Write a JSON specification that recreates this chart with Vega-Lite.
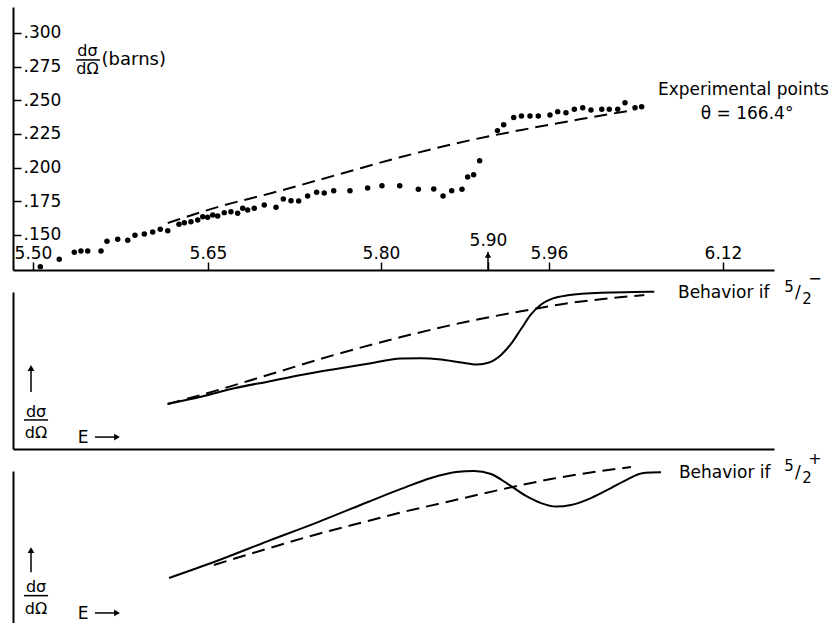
{
  "$schema": "https://vega.github.io/schema/vega-lite/v6.json",
  "background": "white",
  "padding": {"left": 12, "top": 7, "right": 0, "bottom": 0},
  "bounds": "flush",
  "spacing": 22,
  "config": {
    "view": {"stroke": null},
    "font": "DejaVu Sans",
    "axis": {"domainColor": "black", "domainWidth": 2, "tickColor": "black", "tickWidth": 1.5, "labelColor": "black", "grid": false, "labelFont": "DejaVu Sans"},
    "text": {"font": "DejaVu Sans", "color": "black"}
  },
  "resolve": {"scale": {"x": "independent", "y": "independent"}},
  "datasets": {
    "expt": [
      {"E": 5.5063, "v": 0.1265}, {"E": 5.5225, "v": 0.1320}, {"E": 5.5354, "v": 0.1372}, {"E": 5.5411, "v": 0.1381},
      {"E": 5.5469, "v": 0.1381}, {"E": 5.5583, "v": 0.1381}, {"E": 5.5634, "v": 0.1453}, {"E": 5.5726, "v": 0.1468},
      {"E": 5.5812, "v": 0.1461}, {"E": 5.5874, "v": 0.1498}, {"E": 5.5954, "v": 0.1507}, {"E": 5.6026, "v": 0.1522},
      {"E": 5.6091, "v": 0.1542}, {"E": 5.6155, "v": 0.1532}, {"E": 5.6251, "v": 0.1579}, {"E": 5.6297, "v": 0.1591},
      {"E": 5.6354, "v": 0.1599}, {"E": 5.6412, "v": 0.1611}, {"E": 5.6455, "v": 0.1636}, {"E": 5.6497, "v": 0.1631},
      {"E": 5.6541, "v": 0.1649}, {"E": 5.6584, "v": 0.1641}, {"E": 5.6641, "v": 0.1666}, {"E": 5.6699, "v": 0.1673},
      {"E": 5.6757, "v": 0.1661}, {"E": 5.6801, "v": 0.1698}, {"E": 5.6844, "v": 0.1686}, {"E": 5.6901, "v": 0.1698},
      {"E": 5.6988, "v": 0.1723}, {"E": 5.7090, "v": 0.1706}, {"E": 5.7153, "v": 0.1767}, {"E": 5.7220, "v": 0.1755},
      {"E": 5.7286, "v": 0.1752}, {"E": 5.7364, "v": 0.1790}, {"E": 5.7442, "v": 0.1817}, {"E": 5.7508, "v": 0.1812},
      {"E": 5.7590, "v": 0.1829}, {"E": 5.7731, "v": 0.1829}, {"E": 5.7884, "v": 0.1849}, {"E": 5.8009, "v": 0.1866},
      {"E": 5.8175, "v": 0.1866}, {"E": 5.8349, "v": 0.1839}, {"E": 5.8493, "v": 0.1842}, {"E": 5.8580, "v": 0.1790},
      {"E": 5.8661, "v": 0.1829}, {"E": 5.8757, "v": 0.1840}, {"E": 5.8810, "v": 0.1931}, {"E": 5.8866, "v": 0.1948},
      {"E": 5.8922, "v": 0.2052}, {"E": 5.9093, "v": 0.2275}, {"E": 5.9154, "v": 0.2319}, {"E": 5.9253, "v": 0.2373},
      {"E": 5.9329, "v": 0.2384}, {"E": 5.9413, "v": 0.2384}, {"E": 5.9495, "v": 0.2384}, {"E": 5.9609, "v": 0.2391},
      {"E": 5.9680, "v": 0.2416}, {"E": 5.9756, "v": 0.2408}, {"E": 5.9833, "v": 0.2433}, {"E": 5.9910, "v": 0.2445},
      {"E": 5.9986, "v": 0.2428}, {"E": 6.0085, "v": 0.2433}, {"E": 6.0154, "v": 0.2433}, {"E": 6.0232, "v": 0.2433},
      {"E": 6.0299, "v": 0.2482}, {"E": 6.0391, "v": 0.2445}, {"E": 6.0452, "v": 0.2453}
    ],
    "fit": [
      {"E": 5.6155, "v": 0.1589}, {"E": 5.6613, "v": 0.1715}, {"E": 5.7046, "v": 0.1810}, {"E": 5.7653, "v": 0.1955},
      {"E": 5.8187, "v": 0.2079}, {"E": 5.8841, "v": 0.2205}, {"E": 5.9330, "v": 0.2280}, {"E": 5.9894, "v": 0.2361},
      {"E": 6.0382, "v": 0.2428}
    ],
    "minusSolid": [
      {"E": 5.6154, "v": 28.7}, {"E": 5.6440, "v": 33.3}, {"E": 5.6728, "v": 38.7}, {"E": 5.7018, "v": 42.9},
      {"E": 5.7306, "v": 47.1}, {"E": 5.7595, "v": 50.8}, {"E": 5.7885, "v": 54.3}, {"E": 5.8187, "v": 57.6},
      {"E": 5.8374, "v": 57.8}, {"E": 5.8561, "v": 57.0}, {"E": 5.8748, "v": 55.1}, {"E": 5.8898, "v": 53.8},
      {"E": 5.9010, "v": 55.1}, {"E": 5.9128, "v": 59.9}, {"E": 5.9226, "v": 66.9}, {"E": 5.9325, "v": 76.4},
      {"E": 5.9423, "v": 85.7}, {"E": 5.9522, "v": 92.0}, {"E": 5.9637, "v": 95.9}, {"E": 5.9772, "v": 97.9},
      {"E": 6.0078, "v": 99.6}, {"E": 6.0384, "v": 100.0}, {"E": 6.0568, "v": 100.2}
    ],
    "minusDashed": [
      {"E": 5.6154, "v": 28.7}, {"E": 5.6440, "v": 34.4}, {"E": 5.7018, "v": 47.1}, {"E": 5.7595, "v": 59.9},
      {"E": 5.8187, "v": 71.3}, {"E": 5.8810, "v": 81.2}, {"E": 5.9455, "v": 89.2}, {"E": 5.9772, "v": 92.8},
      {"E": 6.0078, "v": 95.4}, {"E": 6.0476, "v": 98.1}
    ],
    "plusSolid": [
      {"E": 5.6166, "v": 29.6}, {"E": 5.6552, "v": 40.1}, {"E": 5.7020, "v": 53.9}, {"E": 5.7454, "v": 66.4},
      {"E": 5.7887, "v": 79.6}, {"E": 5.8187, "v": 88.2}, {"E": 5.8468, "v": 95.4}, {"E": 5.8701, "v": 99.3},
      {"E": 5.8870, "v": 100.0}, {"E": 5.9030, "v": 98.0}, {"E": 5.9197, "v": 91.4}, {"E": 5.9374, "v": 83.6},
      {"E": 5.9522, "v": 78.9}, {"E": 5.9664, "v": 76.6}, {"E": 5.9802, "v": 77.6}, {"E": 5.9986, "v": 82.2},
      {"E": 6.0170, "v": 88.8}, {"E": 6.0326, "v": 94.7}, {"E": 6.0446, "v": 98.4}, {"E": 6.0538, "v": 99.0},
      {"E": 6.0630, "v": 99.1}
    ],
    "plusDashed": [
      {"E": 5.6552, "v": 38.2}, {"E": 5.7020, "v": 49.0}, {"E": 5.7454, "v": 58.6}, {"E": 5.7887, "v": 67.1},
      {"E": 5.8187, "v": 72.7}, {"E": 5.8655, "v": 80.3}, {"E": 5.9128, "v": 87.8}, {"E": 5.9618, "v": 94.7},
      {"E": 6.0078, "v": 100.0}, {"E": 6.0354, "v": 102.6}
    ]
  },
  "vconcat": [
    {
      "width": 761,
      "height": 263,
      "encoding": {
        "x": {
          "field": "E", "type": "quantitative",
          "scale": {"domain": [5.4829, 5.5, 5.65, 5.8, 5.9, 5.96, 6.12, 6.167], "range": [0, 20, 195, 368, 475, 536, 710, 761], "nice": false, "zero": false},
          "axis": {
            "title": null, "values": [5.5, 5.65, 5.8, 5.9, 5.96, 6.12], "format": ".2f",
            "tickSize": -8, "labelBaseline": "alphabetic", "labelFontSize": 17,
            "labelPadding": {"condition": {"test": "datum.value === 5.9", "value": -17}, "value": -4},
            "labelFlush": false, "labelOverlap": false
          }
        },
        "y": {
          "field": "v", "type": "quantitative",
          "scale": {"domain": [0.124, 0.3193], "nice": false, "zero": false},
          "axis": {
            "title": null, "values": [0.15, 0.175, 0.2, 0.225, 0.25, 0.275, 0.3],
            "labelExpr": "substring(format(datum.value, '.3f'), 1)",
            "tickSize": -8, "labelPadding": -2, "labelAlign": "left", "labelBaseline": "middle", "labelFontSize": 17
          }
        }
      },
      "layer": [
        {"data": {"name": "fit"}, "mark": {"type": "line", "color": "black", "strokeWidth": 2, "strokeDash": [13, 7], "interpolate": "monotone"}},
        {"data": {"name": "expt"}, "mark": {"type": "circle", "color": "black", "opacity": 1, "size": 30}},
        {"data": {"values": [{"E": 5.9, "v": 0.124, "v2": 0.1374}]}, "mark": {"type": "rule", "color": "black", "strokeWidth": 1.5}, "encoding": {"y2": {"field": "v2"}}},
        {"data": {"values": [{"E": 5.9, "v": 0.1352}]}, "mark": {"type": "point", "shape": "triangle-up", "filled": true, "color": "black", "opacity": 1, "size": 40}},
        {"data": {"values": [{"E": 6.0602, "v": 0.2577, "t": "Experimental points"}]}, "mark": {"type": "text", "align": "left", "baseline": "middle", "fontSize": 17}, "encoding": {"text": {"field": "t"}}},
        {"data": {"values": [{"E": 6.1422, "v": 0.2398, "t": "θ = 166.4°"}]}, "mark": {"type": "text", "align": "center", "baseline": "middle", "fontSize": 17}, "encoding": {"text": {"field": "t"}}},
        {"data": {"values": [{"E": 5.5467, "v": 0.2806, "t": "dσ"}]}, "mark": {"type": "text", "align": "center", "baseline": "bottom", "fontSize": 16}, "encoding": {"text": {"field": "t"}}},
        {"data": {"values": [{"E": 5.5467, "v": 0.2794, "t": "dΩ"}]}, "mark": {"type": "text", "align": "center", "baseline": "top", "fontSize": 16}, "encoding": {"text": {"field": "t"}}},
        {"data": {"values": [{"E": 5.5369, "E2": 5.5574, "v": 0.2800}]}, "mark": {"type": "rule", "color": "black", "strokeWidth": 1.5}, "encoding": {"x2": {"field": "E2"}}},
        {"data": {"values": [{"E": 5.5588, "v": 0.2799, "t": "(barns)"}]}, "mark": {"type": "text", "align": "left", "baseline": "middle", "fontSize": 18}, "encoding": {"text": {"field": "t"}}}
      ]
    },
    {
      "width": 761,
      "height": 157,
      "encoding": {
        "x": {
          "field": "E", "type": "quantitative",
          "scale": {"domain": [5.4829, 5.5, 5.65, 5.8, 5.9, 5.96, 6.12, 6.167], "range": [0, 20, 195, 368, 475, 536, 710, 761], "nice": false, "zero": false},
          "axis": {"title": null, "ticks": false, "labels": false}
        },
        "y": {
          "field": "v", "type": "quantitative",
          "scale": {"domain": [0, 100], "nice": false, "zero": false},
          "axis": {"title": null, "ticks": false, "labels": false}
        }
      },
      "layer": [
        {"data": {"name": "minusDashed"}, "mark": {"type": "line", "color": "black", "strokeWidth": 2, "strokeDash": [13, 7], "interpolate": "monotone"}},
        {"data": {"name": "minusSolid"}, "mark": {"type": "line", "color": "black", "strokeWidth": 2, "interpolate": "monotone"}},
        {"data": {"values": [{"E": 5.4983, "v": 36.3, "v2": 51.6}]}, "mark": {"type": "rule", "color": "black", "strokeWidth": 1.5}, "encoding": {"y2": {"field": "v2"}}},
        {"data": {"values": [{"E": 5.4983, "v": 51.6}]}, "mark": {"type": "point", "shape": "triangle-up", "filled": true, "color": "black", "opacity": 1, "size": 45}},
        {"data": {"values": [{"E": 5.5026, "v": 23.8, "t": "dσ"}, {"E": 5.5026, "v": 10.2, "t": "dΩ"}]}, "mark": {"type": "text", "align": "center", "baseline": "middle", "fontSize": 16}, "encoding": {"text": {"field": "t"}}},
        {"data": {"values": [{"E": 5.4923, "E2": 5.5129, "v": 18.5}]}, "mark": {"type": "rule", "color": "black", "strokeWidth": 1.5}, "encoding": {"x2": {"field": "E2"}}},
        {"data": {"values": [{"E": 5.5429, "v": 7.0, "t": "E"}]}, "mark": {"type": "text", "align": "center", "baseline": "middle", "fontSize": 17}, "encoding": {"text": {"field": "t"}}},
        {"data": {"values": [{"E": 5.5531, "E2": 5.5711, "v": 7.6}]}, "mark": {"type": "rule", "color": "black", "strokeWidth": 1.5}, "encoding": {"x2": {"field": "E2"}}},
        {"data": {"values": [{"E": 5.5720, "v": 7.6}]}, "mark": {"type": "point", "shape": "triangle-right", "filled": true, "color": "black", "opacity": 1, "size": 45}},
        {"data": {"values": [{"E": 6.0786, "v": 99.4, "t": "Behavior if"}]}, "mark": {"type": "text", "align": "left", "baseline": "middle", "fontSize": 17}, "encoding": {"text": {"field": "t"}}},
        {"data": {"values": [{"E": 6.0786, "v": 99.4, "t": "5"}]}, "mark": {"type": "text", "align": "center", "baseline": "middle", "fontSize": 15, "dx": 111, "dy": -6}, "encoding": {"text": {"field": "t"}}},
        {"data": {"values": [{"E": 6.0786, "v": 99.4, "t": "/"}]}, "mark": {"type": "text", "align": "center", "baseline": "middle", "fontSize": 17, "dx": 120, "dy": 0}, "encoding": {"text": {"field": "t"}}},
        {"data": {"values": [{"E": 6.0786, "v": 99.4, "t": "2"}]}, "mark": {"type": "text", "align": "center", "baseline": "middle", "fontSize": 15, "dx": 129, "dy": 6}, "encoding": {"text": {"field": "t"}}},
        {"data": {"values": [{"E": 6.0786, "v": 99.4, "t": "−"}]}, "mark": {"type": "text", "align": "center", "baseline": "middle", "fontSize": 16, "dx": 137, "dy": -14}, "encoding": {"text": {"field": "t"}}}
      ]
    },
    {
      "width": 761,
      "height": 152,
      "encoding": {
        "x": {
          "field": "E", "type": "quantitative",
          "scale": {"domain": [5.4829, 5.5, 5.65, 5.8, 5.9, 5.96, 6.12, 6.167], "range": [0, 20, 195, 368, 475, 536, 710, 761], "nice": false, "zero": false},
          "axis": null
        },
        "y": {
          "field": "v", "type": "quantitative",
          "scale": {"domain": [0, 100], "nice": false, "zero": false},
          "axis": {"title": null, "ticks": false, "labels": false}
        }
      },
      "layer": [
        {"data": {"name": "plusDashed"}, "mark": {"type": "line", "color": "black", "strokeWidth": 2, "strokeDash": [13, 7], "interpolate": "monotone"}},
        {"data": {"name": "plusSolid"}, "mark": {"type": "line", "color": "black", "strokeWidth": 2, "interpolate": "monotone"}},
        {"data": {"values": [{"E": 5.4983, "v": 33.4, "v2": 47.4}]}, "mark": {"type": "rule", "color": "black", "strokeWidth": 1.5}, "encoding": {"y2": {"field": "v2"}}},
        {"data": {"values": [{"E": 5.4983, "v": 48.0}]}, "mark": {"type": "point", "shape": "triangle-up", "filled": true, "color": "black", "opacity": 1, "size": 45}},
        {"data": {"values": [{"E": 5.5026, "v": 24.0, "t": "dσ"}, {"E": 5.5026, "v": 9.2, "t": "dΩ"}]}, "mark": {"type": "text", "align": "center", "baseline": "middle", "fontSize": 16}, "encoding": {"text": {"field": "t"}}},
        {"data": {"values": [{"E": 5.4923, "E2": 5.5129, "v": 18.0}]}, "mark": {"type": "rule", "color": "black", "strokeWidth": 1.5}, "encoding": {"x2": {"field": "E2"}}},
        {"data": {"values": [{"E": 5.5429, "v": 5.9, "t": "E"}]}, "mark": {"type": "text", "align": "center", "baseline": "middle", "fontSize": 17}, "encoding": {"text": {"field": "t"}}},
        {"data": {"values": [{"E": 5.5531, "E2": 5.5711, "v": 6.6}]}, "mark": {"type": "rule", "color": "black", "strokeWidth": 1.5}, "encoding": {"x2": {"field": "E2"}}},
        {"data": {"values": [{"E": 5.5720, "v": 6.6}]}, "mark": {"type": "point", "shape": "triangle-right", "filled": true, "color": "black", "opacity": 1, "size": 45}},
        {"data": {"values": [{"E": 6.0795, "v": 98.7, "t": "Behavior if"}]}, "mark": {"type": "text", "align": "left", "baseline": "middle", "fontSize": 17}, "encoding": {"text": {"field": "t"}}},
        {"data": {"values": [{"E": 6.0795, "v": 98.7, "t": "5"}]}, "mark": {"type": "text", "align": "center", "baseline": "middle", "fontSize": 15, "dx": 110, "dy": -7}, "encoding": {"text": {"field": "t"}}},
        {"data": {"values": [{"E": 6.0795, "v": 98.7, "t": "/"}]}, "mark": {"type": "text", "align": "center", "baseline": "middle", "fontSize": 17, "dx": 119, "dy": 0}, "encoding": {"text": {"field": "t"}}},
        {"data": {"values": [{"E": 6.0795, "v": 98.7, "t": "2"}]}, "mark": {"type": "text", "align": "center", "baseline": "middle", "fontSize": 15, "dx": 128, "dy": 5}, "encoding": {"text": {"field": "t"}}},
        {"data": {"values": [{"E": 6.0795, "v": 98.7, "t": "+"}]}, "mark": {"type": "text", "align": "center", "baseline": "middle", "fontSize": 16, "dx": 136, "dy": -14}, "encoding": {"text": {"field": "t"}}}
      ]
    }
  ]
}
